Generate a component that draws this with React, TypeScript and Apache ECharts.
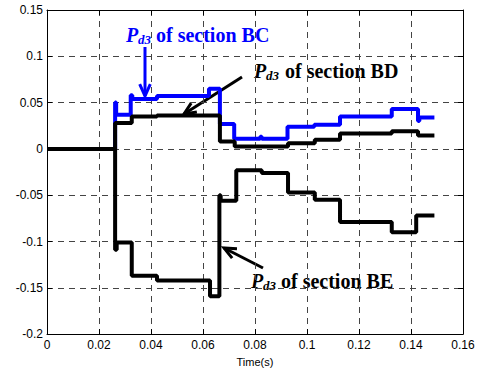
import React, { useEffect, useRef } from "react";
import * as echarts from "echarts";

// Time (s) at which each step begins, and the value held from there
const bcTime = [0, 0.0262, 0.0266, 0.0322, 0.0328, 0.0423, 0.0623, 0.0665, 0.072, 0.082, 0.0826, 0.0925, 0.1028, 0.1127, 0.1326, 0.1427, 0.1432, 0.149];
const bcValue = [0, 0.05, 0.037, 0.058, 0.054, 0.057, 0.065, 0.027, 0.011, 0.013, 0.011, 0.024, 0.026, 0.035, 0.043, 0.03, 0.034, 0.034];

const bdTime = [0, 0.0262, 0.0326, 0.0423, 0.0665, 0.0722, 0.0927, 0.103, 0.1127, 0.1326, 0.1427, 0.149];
const bdValue = [0, 0.028, 0.035, 0.036, 0.008, 0.0027, 0.006, 0.01, 0.0167, 0.019, 0.0145, 0.0145];

const beTime = [0, 0.0262, 0.0268, 0.0326, 0.0423, 0.0627, 0.0663, 0.0668, 0.0728, 0.0826, 0.0927, 0.103, 0.1127, 0.1326, 0.142, 0.149];
const beValue = [0, -0.109, -0.101, -0.137, -0.142, -0.159, -0.05, -0.056, -0.023, -0.026, -0.047, -0.055, -0.079, -0.09, -0.072, -0.072];

const seriesNames = ["Pd3 of section BC", "Pd3 of section BD", "Pd3 of section BE"];
const xLabelText = "Time(s)";

const pairs = (t: number[], v: number[]) => t.map((x, i) => [x, v[i]]);

function arrow(x1: number, y1: number, x2: number, y2: number, color: string) {
  const ang = Math.atan2(y2 - y1, x2 - x1);
  const len = 13;
  const spread = 0.42;
  const a1 = [x2 - len * Math.cos(ang - spread), y2 - len * Math.sin(ang - spread)];
  const a2 = [x2 - len * Math.cos(ang + spread), y2 - len * Math.sin(ang + spread)];
  return [
    { type: "line", shape: { x1, y1, x2, y2 }, style: { stroke: color, lineWidth: 3 }, silent: true },
    { type: "polyline", shape: { points: [a1, [x2, y2], a2] }, style: { stroke: color, lineWidth: 3, fill: null }, silent: true },
  ];
}

function label(px: number, base: number, ofX: number, rest: string, color: string) {
  const serif = '"Liberation Serif", "Times New Roman", serif';
  return [
    { type: "text", x: px, y: base - 6.8, silent: true, style: { text: "P", fill: color, font: `italic bold 20px ${serif}`, textAlign: "left", textVerticalAlign: "middle", align: "left", verticalAlign: "middle" } },
    { type: "text", x: px + 12, y: base - 2.4 , silent: true, style: { text: "d3", fill: color, font: `italic bold 13px ${serif}`, textAlign: "left", textVerticalAlign: "middle", align: "left", verticalAlign: "middle" } },
    { type: "text", x: ofX, y: base - 6.8, silent: true, style: { text: rest, fill: color, font: `bold 20px ${serif}`, textAlign: "left", textVerticalAlign: "middle", align: "left", verticalAlign: "middle" } },
  ];
}

export default function App() {
  const ref = useRef<HTMLDivElement>(null);
  useEffect(() => {
    if (!ref.current) return;
    const chart = echarts.init(ref.current, undefined, { renderer: "svg" });
    const sans = '"Liberation Sans", Arial, Helvetica, sans-serif';
    const axisCommon = {
      type: "value" as const,
      axisLine: { show: true, onZero: false, lineStyle: { color: "#000", width: 1 } },
      axisTick: { show: true, inside: true, length: 5, lineStyle: { color: "#000" } },
    };
    chart.setOption({
      animation: false,
      backgroundColor: "#fff",
      grid: { left: 47, right: 19, top: 10, bottom: 36, containLabel: false },
      xAxis: [
        {
          ...axisCommon,
          min: 0, max: 0.16, interval: 0.02,
          name: xLabelText, nameLocation: "middle", nameGap: 21,
          nameTextStyle: { color: "#000", fontSize: 11, fontFamily: sans },
          axisLabel: { color: "#000", fontSize: 12, fontFamily: sans, margin: 5 },
          splitLine: { show: true, lineStyle: { color: "#444", type: [6, 5], width: 1 } },
        },
        {
          ...axisCommon, position: "top",
          min: 0, max: 0.16, interval: 0.02,
          axisLabel: { show: false }, splitLine: { show: false },
        },
      ],
      yAxis: [
        {
          ...axisCommon,
          min: -0.2, max: 0.15, interval: 0.05,
          axisLabel: { color: "#000", fontSize: 12, fontFamily: sans, margin: 4 },
          splitLine: { show: true, lineStyle: { color: "#444", type: [6, 5], width: 1 } },
        },
        {
          ...axisCommon, position: "right",
          min: -0.2, max: 0.15, interval: 0.05,
          axisLabel: { show: false }, splitLine: { show: false },
        },
      ],
      series: [
        { name: seriesNames[0], type: "line", step: "end", data: pairs(bcTime, bcValue), showSymbol: false, silent: true, lineStyle: { color: "#0000ff", width: 4 }, itemStyle: { color: "#0000ff" }, z: 2 },
        { name: seriesNames[1], type: "line", step: "end", data: pairs(bdTime, bdValue), showSymbol: false, silent: true, lineStyle: { color: "#000", width: 4 }, itemStyle: { color: "#000" }, z: 3 },
        { name: seriesNames[2], type: "line", step: "end", data: pairs(beTime, beValue), showSymbol: false, silent: true, lineStyle: { color: "#000", width: 4 }, itemStyle: { color: "#000" }, z: 4 },
      ],
      graphic: [
        ...label(126, 42, 156, "of section BC", "#0000ff"),
        ...arrow(145, 47, 145, 96, "#0000ff"),
        ...label(254, 78, 285, "of section BD", "#000"),
        ...arrow(242, 77, 184, 114, "#000"),
        ...label(251, 288, 281, "of section BE", "#000"),
        ...arrow(263, 268, 224, 248, "#000"),
      ],
    });
    return () => chart.dispose();
  }, []);
  return <div ref={ref} style={{ position: "fixed", left: 0, top: 0, width: 482, height: 372, background: "#fff" }} />;
}
